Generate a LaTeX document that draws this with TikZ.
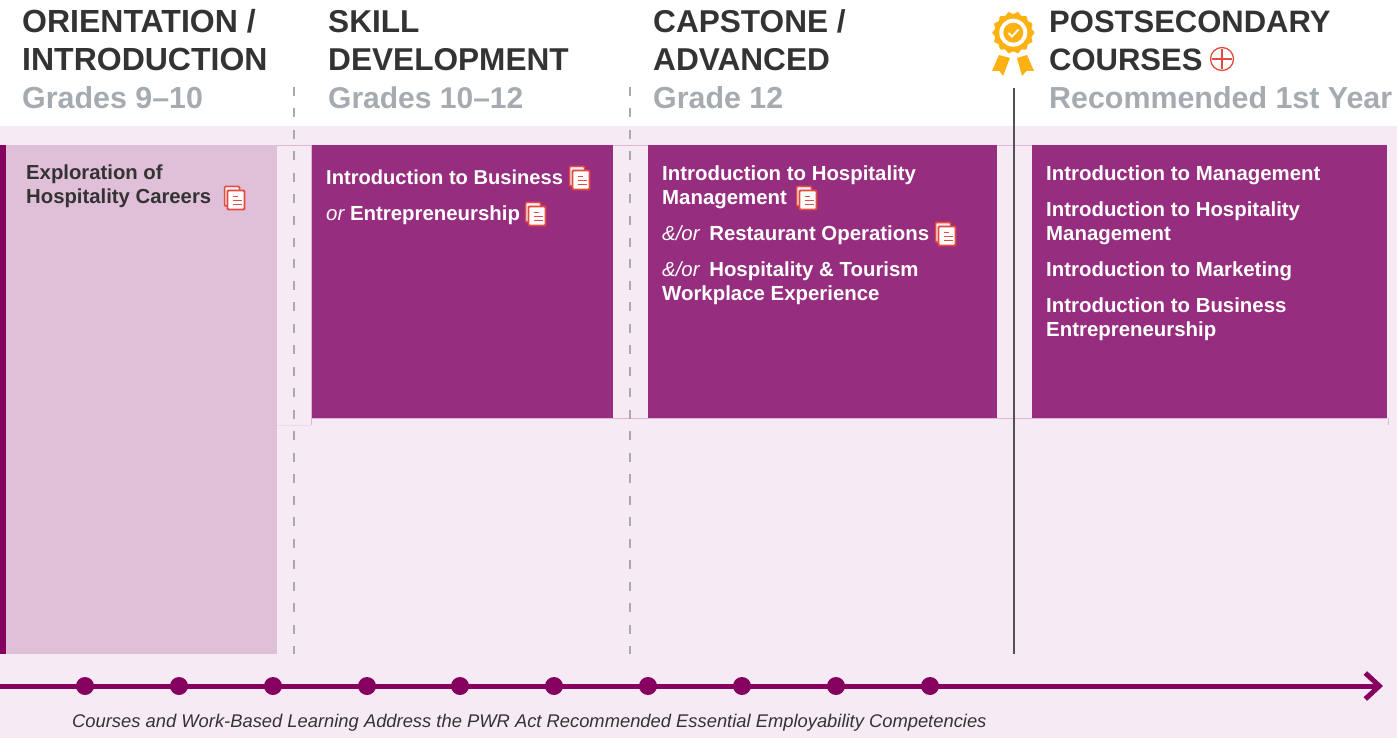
\documentclass[tikz,border=0pt]{standalone}
\usepackage{fontspec}
\setmainfont{Liberation Sans}
\usetikzlibrary{arrows.meta}

\definecolor{plum}{HTML}{85005F}
\definecolor{boxplum}{HTML}{972D7E}
\definecolor{lightplum}{HTML}{E0BFD8}
\definecolor{paleplum}{HTML}{F6EBF4}
\definecolor{edgeplum}{HTML}{DDB5D5}
\definecolor{headgrey}{HTML}{333333}
\definecolor{gradegrey}{HTML}{A5ABB0}
\definecolor{iconred}{HTML}{E64A3C}
\definecolor{medal}{HTML}{FDB113}

\tikzset{docicon/.pic={
    \draw[iconred,line width=1.5pt,fill=paleplum,rounded corners=1pt] (-10,-11.5) rectangle (5,8);
    \draw[iconred,line width=1.9pt,fill=white,rounded corners=1pt] (-7,-7.5) rectangle (10,11.5);
    \draw[iconred,line width=1.8pt] (-2,-1.5) -- (3,-1.5) (-2,2.5) -- (7,2.5) (-2,6.5) -- (7,6.5);
}}

\begin{document}
\begin{tikzpicture}[x=1pt,y=-1pt]
\tikzstyle{head}=[anchor=base west,inner sep=0,align=left,text=headgrey,font=\bfseries\fontsize{32}{38}\selectfont]
\tikzstyle{grade}=[anchor=base west,inner sep=0,text=gradegrey,font=\bfseries\fontsize{30.4}{38}\selectfont]
\tikzstyle{column}=[anchor=north west,inner sep=0,minimum height=273pt]
\tikzstyle{course}=[anchor=north west,inner sep=0,align=left,text=white,font=\bfseries\fontsize{20.4}{24}\selectfont]
\tikzstyle{tldot}=[circle,fill=plum,inner sep=0,minimum size=18pt]
\tikzstyle{divider}=[gradegrey,line width=1.4pt,dash pattern=on 9pt off 12.5pt]

\useasboundingbox (0,0) rectangle (1397,738);
\fill[paleplum] (0,126) rectangle (1397,738);

%% Draw columns
\node [anchor=north west,inner sep=0,minimum width=6pt,minimum height=509pt,fill=plum] (stripe) at (0,145) {};
\node [anchor=north west,inner sep=0,minimum width=271pt,minimum height=509pt,fill=lightplum] (intro) at (6,145) {};
\node [column,minimum width=301pt,fill=boxplum] (skill) at (312,145) {};
\node [column,minimum width=349pt,fill=boxplum] (capstone) at (648,145) {};
\node [column,minimum width=355pt,fill=boxplum] (post) at (1032,145) {};

% thin edges between the columns
\draw[edgeplum] (intro.north east) -- (skill.north west) (skill.north east) -- (capstone.north west)
    (capstone.north east) -- (post.north west);
\draw[edgeplum] ([yshift=.5pt]skill.south west) -- ([yshift=.5pt]post.south east);
\draw[edgeplum] ([xshift=-.5pt]skill.north west) -- ++(0,280);
\draw[edgeplum] ([xshift=.5pt]post.south east) -- ++(0,7);
\draw[edgeplum,opacity=.3] (277,425) -- (311,425);

%% Draw dividers
\coordinate (div1top) at (294,87);
\coordinate (div1bot) at (294,654);
\coordinate (div2top) at (630,87);
\coordinate (div2bot) at (630,654);
\coordinate (ruletop) at (1014,88);
\coordinate (rulebot) at (1014,654);
\draw[divider] (div1top) -- (div1bot);
\draw[divider] (div2top) -- (div2bot);
\draw[line width=2pt,black!68] (ruletop) -- (rulebot);

%% Draw headings
\node [head] (orient) at (22,71) {ORIENTATION /\\INTRODUCTION};
\node [grade] (orientgr) at (22,109) {Grades 9–10};
\node [head,font=\bfseries\fontsize{31.6}{38}\selectfont] (skillhd) at (328,71) {SKILL\\DEVELOPMENT};
\node [grade,font=\bfseries\fontsize{30}{38}\selectfont] (skillgr) at (328,109) {Grades 10–12};
\node [head,font=\bfseries\fontsize{31.6}{38}\selectfont] (caphd) at (653,71) {CAPSTONE /\\ADVANCED};
\node [grade] (capgr) at (653,109) {Grade 12};
\node [head,font=\bfseries\fontsize{31}{38}\selectfont] (posthd) at (1049,71) {POSTSECONDARY\\COURSES};
\node [grade] (postgr) at (1049,109) {Recommended 1st Year};

%% Draw plus sign
\node [circle,draw=iconred,line width=1.3pt,inner sep=0,minimum size=23pt] (plus) at (1222,59) {};
\draw[iconred,line width=2pt] ([xshift=2pt]plus.west) -- ([xshift=-2pt]plus.east)
    ([yshift=-2pt]plus.north) -- ([yshift=2pt]plus.south);

%% Draw medal
\fill[medal] (999,55) -- (1010,58) -- (1003,76) -- (999.5,71) -- (992,71) -- cycle;
\fill[medal] (1017,58) -- (1027,55) -- (1034,71) -- (1026.5,71) -- (1022,76) -- cycle;
\filldraw[medal,draw=white,line width=.8pt] plot[domain=0:360,samples=169,smooth] ({1013.3+(20.4+1.1*cos(14*\x))*cos(\x)},{32.7+(20.4+1.1*cos(14*\x))*sin(\x)});
\fill[white] (1013.3,32.7) circle (14);
\fill[medal] (1013.3,32.7) circle (10);
\draw[white,line width=1.8pt] (1008.5,33) -- (1012,36.5) -- (1018.5,29.5);

%% Draw course texts
\node [course,text=headgrey,font=\bfseries\fontsize{20.3}{24}\selectfont] (c1) at (26,165) {Exploration of\\Hospitality Careers};
\node [course,font=\bfseries\fontsize{20.1}{24}\selectfont] (c2) at (326,170) {Introduction to Business};
\node [course] (c3) at (326,206) {{\normalfont\itshape or} Entrepreneurship};
\node [course] (c4) at (662,166) {Introduction to Hospitality\\Management};
\node [course] (c5) at (662,226) {{\normalfont\itshape \&/or}\hspace{4pt} Restaurant Operations};
\node [course] (c6) at (662,262) {{\normalfont\itshape \&/or}\hspace{4pt} Hospitality \& Tourism\\Workplace Experience};
\node [course] (c7) at (1046,166) {Introduction to Management};
\node [course] (c8) at (1046,202) {Introduction to Hospitality\\Management};
\node [course] (c9) at (1046,262) {Introduction to Marketing};
\node [course] (c10) at (1046,298) {Introduction to Business\\Entrepreneurship};

%% Draw document icons
\foreach \x/\y in {234.5/198,579.5/178,535.5/214,806.5/198,945.5/234}
    \pic at (\x,\y) {docicon};

%% Draw time line
\coordinate (tlstart) at (0,686);
\coordinate (tlend) at (1383,686);
\draw[plum,line width=5pt,-{Straight Barb[length=14pt,width=26pt]}] (tlstart) -- (tlend);
\foreach \x [count=\i] in {85,179,273,367,460,554,648,742,836,930}
    \node [tldot] (dot\i) at (\x,686) {};

\node [anchor=base west,inner sep=0,text=headgrey,font=\itshape\fontsize{18.36}{20}\selectfont] (note) at (72,727)
    {Courses and Work-Based Learning Address the PWR Act Recommended Essential Employability Competencies};
\end{tikzpicture}
\end{document}
